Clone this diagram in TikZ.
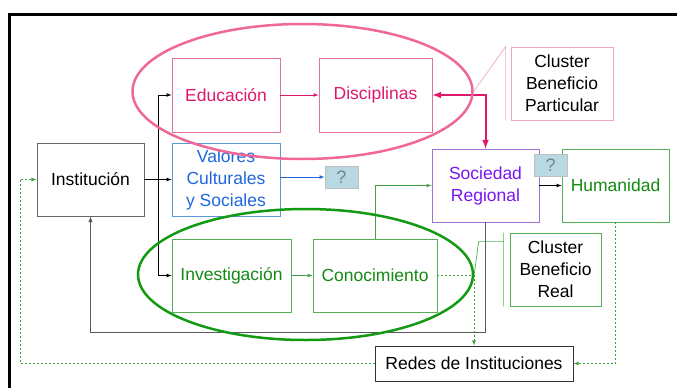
\documentclass[tikz,border=0pt]{standalone}
\usepackage{fontspec}
\setmainfont{Liberation Sans}
\usepackage{tikz}
\usetikzlibrary{arrows,shapes.geometric}
\definecolor{rosa}{HTML}{E0186C}
\definecolor{rosaborde}{HTML}{E070A0}
\definecolor{rosaclaro}{HTML}{F0A8C8}
\definecolor{rosaanillo}{HTML}{F06898}
\definecolor{azul}{HTML}{1F66DD}
\definecolor{azulborde}{HTML}{5A98D8}
\definecolor{morado}{HTML}{7A14F0}
\definecolor{moradoborde}{HTML}{A070D0}
\definecolor{verde}{HTML}{138A13}
\definecolor{verdeborde}{HTML}{55B055}
\definecolor{verdepunto}{HTML}{3AA03A}
\definecolor{verdeanillo}{HTML}{139A13}
\definecolor{celeste}{HTML}{B8D9E2}
\definecolor{grisq}{HTML}{6E8590}

\begin{document}
\begin{tikzpicture}[x=1pt,y=-1pt,
	caja/.style={draw,line width=0.8pt,inner sep=0pt,minimum height=73pt,align=center,font=\fontsize{17.5}{22}\selectfont},
	preg/.style={draw=gray!50,fill=celeste,line width=0.8pt,minimum width=33pt,minimum height=22pt,inner sep=0pt,text=grisq,font=\fontsize{18}{20}\selectfont},
	flecha/.style={-latex,line width=0.7pt},
	punteado/.style={verdepunto,line width=0.8pt,dash pattern=on 2pt off 2pt}]
		\useasboundingbox (0,0) rectangle (677,388);
		\draw[line width=3pt] (9,388) -- (9,14) -- (677,14); % marco
		% cajas
		\node[caja,draw=gray!80!black,minimum width=107pt] (inst) at (90.5,179.5) {Institución};
		\node[caja,draw=rosaborde,text=rosa,minimum width=108pt,minimum height=74pt] (edu) at (226,95) {Educación};
		\node[caja,draw=rosaborde,text=rosa,minimum width=113pt,minimum height=74pt] (disc) at (375.5,95) {Disciplinas};
		\node[caja,draw=azulborde,text=azul,minimum width=108pt] (val) at (226,179.5) {Valores\\Culturales\\y Sociales};
		\node[caja,draw=moradoborde,text=morado,minimum width=107pt] (soc) at (485.5,185.5) {Sociedad\\Regional};
		\node[caja,draw=verdeborde,text=verde,minimum width=107pt] (hum) at (615.5,185.5) {Humanidad};
		\node[caja,draw=verdeborde,text=verde,minimum width=119pt] (inv) at (231.5,275.5) {Investigación};
		\node[caja,draw=verdeborde,text=verde,minimum width=124pt] (con) at (375,275.5) {Conocimiento};
		\node[caja,draw=rosaclaro,minimum width=102pt] (cbp) at (562,83.5) {Cluster\\Beneficio\\Particular};
		\node[caja,draw=verdeborde,minimum width=91pt] (cbr) at (555.5,269.5) {Cluster\\Beneficio\\Real};
		\node[caja,draw=black!80,line width=1pt,minimum width=198pt,minimum height=35pt] (redes) at (474,363.5) {Redes de Instituciones};
		\node[preg] (q1) at (341.5,177) {?};
		% flechas negras
		\coordinate (split) at (158,179.5);
		\draw[flecha] (inst.east) -- (val.west);
		\draw[line width=0.7pt] (split |- edu) -- (split |- inv);
		\draw[flecha] (split |- edu) -- (edu.west);
		\draw[flecha] (split |- inv) -- (inv.west);
		\draw[flecha] (soc.east) -- (hum.west);
		\draw[flecha,black!65,line width=1pt] (soc.south) -- ++(0,110) -| (inst.south); % retorno
		% flechas de color
		\draw[flecha,rosa] (edu.east) -- (disc.west);
		\draw[flecha,azul] (val.east |- q1) -- (q1.west);
		\draw[flecha,verde!80] (inv.east) -- (con.west);
		\draw[flecha,verde!80] (con.north) |- (soc.west);
		\draw[latex-latex,rosa,line width=2pt] (disc.east) -| (soc.north);
		% punteadas
		\coordinate (vuelta) at (20,363.5);
		\draw[punteado,-latex] (con.east) -| (redes.north);
		\draw[punteado,-latex] (hum.south) |- (redes.east);
		\draw[punteado,-latex] (redes.west) -- (vuelta) |- (inst.west);
		% anillos
		\node[ellipse,draw=rosaanillo,line width=2.5pt,minimum width=340pt,minimum height=135pt] (anillorosa) at (302.5,91.5) {};
		\node[ellipse,draw=verdeanillo,line width=2.5pt,minimum width=335pt,minimum height=131pt] (anilloverde) at (305.5,274.5) {};
		\node[preg] (q2) at (550.5,165) {?};
		% llamadas
		\draw[rosaclaro,line width=0.7pt] ([xshift=-5pt]cbp.south west) -- ([xshift=-5pt]cbp.north west) -- (anillorosa.east);
		\draw[verdeborde,line width=0.7pt] ([xshift=-6pt]cbr.south west) -- ([xshift=-6pt]cbr.north west) ++(0,9) -- ++(-25,0) -- (anilloverde.east);
		\end{tikzpicture}
\end{document}
